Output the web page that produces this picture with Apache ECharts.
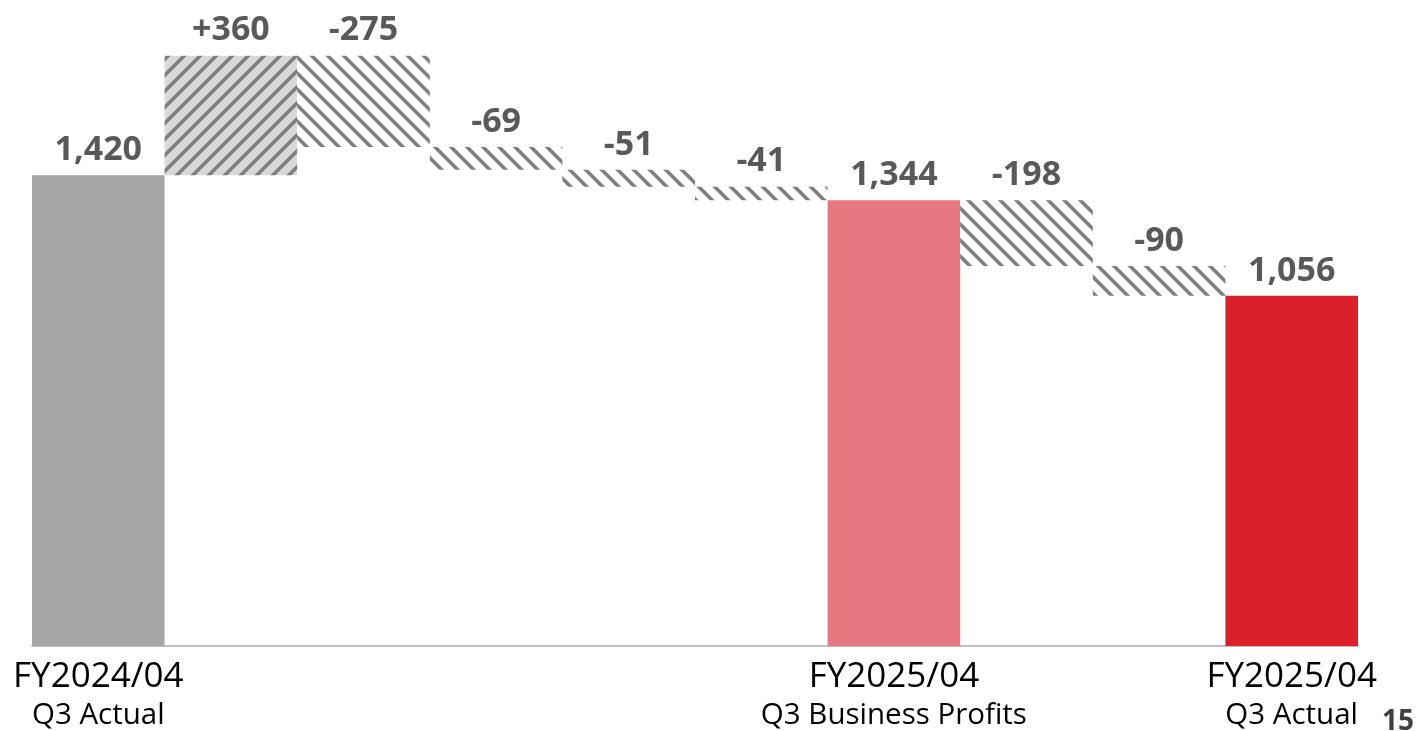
<!DOCTYPE html>
<html>
<head>
<meta charset="utf-8">
<script src="https://cdn.jsdelivr.net/npm/echarts@6/dist/echarts.min.js"></script>
<style>
    html, body { margin: 0; padding: 0; background: #fff; }
    #chart { width: 1421px; height: 731px; }
</style>
</head>
<body>
<div id="chart"></div>
<script>
// categories (only the totals carry an axis label)
const catTop = ['FY2024/04', '', '', '', '', '', 'FY2025/04', '', '', 'FY2025/04']
const catBottom = ['Q3 Actual', '', '', '', '', '', 'Q3 Business Profits', '', '', 'Q3 Actual']
// bar values: totals are absolute, the rest are changes
const values = [1420, 360, -275, -69, -51, -41, 1344, -198, -90, 1056]
const kinds = ['total', 'up', 'down', 'down', 'down', 'down', 'total', 'down', 'down', 'total']
const valueLabels = ['1,420', '+360', '-275', '-69', '-51', '-41', '1,344', '-198', '-90', '1,056']
const pageNo = '15'

// striped fills, 45 degree lines every 16px
function stripes(bg, fg, up) {
    let c = document.createElement('canvas')
    let s = 16
    c.width = s
    c.height = s
    let ctx = c.getContext('2d')
    ctx.fillStyle = bg
    ctx.fillRect(0, 0, s, s)
    ctx.strokeStyle = fg
    ctx.lineWidth = 3.6
    ctx.beginPath()
    if (up) {
        ctx.moveTo(-4, s + 4); ctx.lineTo(s + 4, -4)
        ctx.moveTo(-4, 4); ctx.lineTo(4, -4)
        ctx.moveTo(s - 4, s + 4); ctx.lineTo(s + 4, s - 4)
    } else {
        ctx.moveTo(-4, -4); ctx.lineTo(s + 4, s + 4)
        ctx.moveTo(-4, s - 4); ctx.lineTo(4, s + 4)
        ctx.moveTo(s - 4, -4); ctx.lineTo(s + 4, 4)
    }
    ctx.stroke()
    return c
}
const upFill = {image: stripes('#d9d9d9', '#7f7f7f', true), repeat: 'repeat'}
const downFill = {image: stripes('#ffffff', '#7f7f7f', false), repeat: 'repeat'}
const totalColors = {0: '#a6a6a6', 6: '#e77780', 9: '#da202b'}

// build the waterfall: invisible base + visible piece
let level = 0
const base = []
const shown = []
values.forEach(function (v, i) {
    if (kinds[i] === 'total') {
        base.push(0)
        level = v
        shown.push({value: v, itemStyle: {color: totalColors[i]}})
    } else if (kinds[i] === 'up') {
        base.push(level)
        level += v
        shown.push({value: v, itemStyle: {color: upFill}})
    } else {
        level += v
        base.push(level)
        shown.push({value: -v, itemStyle: {color: downFill}})
    }
})

const chart = echarts.init(document.getElementById('chart'))
chart.setOption({
    animation: false,
    textStyle: {fontFamily: '"Open Sans", "Noto Sans", sans-serif'},
    grid: {left: 32, right: 63, top: 16, bottom: 85},
    xAxis: {
        type: 'category',
        data: catTop.map(function (t, i) { return i }),
        axisLine: {lineStyle: {color: '#bfbfbf', width: 2}},
        axisTick: {show: false},
        axisLabel: {
            interval: 0,
            margin: 13,
            formatter: function (v, i) {
                if (!catTop[i]) return ''
                return '{a|' + catTop[i] + '}\n{b|' + catBottom[i] + '}'
            },
            rich: {
                a: {fontSize: 35, color: '#000', lineHeight: 36},
                b: {fontSize: 29.5, color: '#000', lineHeight: 42}
            }
        }
    },
    yAxis: {type: 'value', min: 0, max: 1900, show: false, splitLine: {show: false}},
    series: [{
        type: 'bar',
        stack: 'w',
        data: base,
        itemStyle: {color: 'transparent'},
        barCategoryGap: 0,
        silent: true
    }, {
        type: 'bar',
        stack: 'w',
        data: shown,
        barCategoryGap: 0,
        label: {
            show: true,
            position: 'top',
            distance: 8,
            fontSize: 34,
            fontWeight: 'bold',
            color: '#595959',
            formatter: function (p) { return valueLabels[p.dataIndex] }
        }
    }],
    graphic: [{
        type: 'text',
        right: 7,
        bottom: -5,
        style: {text: pageNo, fontSize: 28, fontWeight: 'bold', fill: '#404040', fontFamily: '"Open Sans", sans-serif'}
    }]
})
</script>
</body>
</html>
